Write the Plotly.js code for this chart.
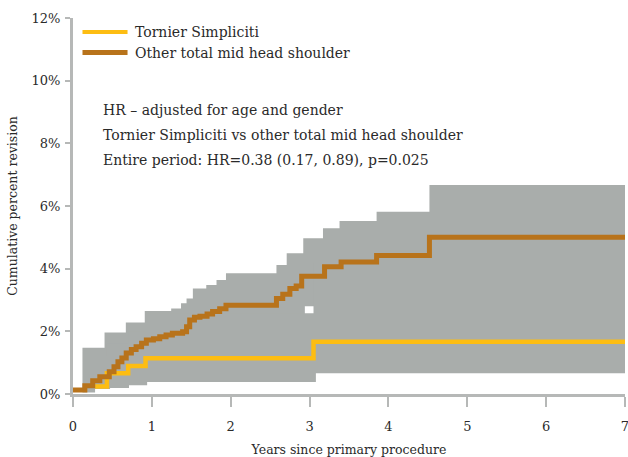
<!DOCTYPE html>
<html>
<head>
<meta charset="utf-8">
<script src="https://cdn.plot.ly/plotly-3.0.1.min.js"></script>
<style>html,body{margin:0;padding:0;background:#fff;}#chart{width:628px;height:457px;}</style>
</head>
<body>
<div id="chart"></div>
<script>
// Kaplan-Meier style cumulative percent revision (step functions)
const tornierYears = [0.28, 0.43, 0.70, 0.92, 3.05, 7.00];
const tornierPct   = [0.24, 0.66, 0.89, 1.14, 1.67, 1.67];
const tornierLoYears = [0.28, 0.45, 0.71, 0.94, 3.08, 7.00];
const tornierLoPct   = [0.16, 0.19, 0.28, 0.38, 0.66, 0.66];
const tornierHiYears = [0.28, 0.43, 0.70, 0.92, 3.05, 7.00];
const tornierHiPct   = [1.20, 1.60, 2.00, 2.58, 4.20, 4.20];

const otherYears = [0.00, 0.15, 0.25, 0.34, 0.46, 0.52, 0.57, 0.62, 0.675, 0.74, 0.80, 0.87, 0.93, 1.02, 1.10, 1.18, 1.26, 1.39, 1.44, 1.48, 1.54, 1.61, 1.70, 1.77, 1.86, 1.94, 2.58, 2.66, 2.75, 2.83, 2.90, 3.19, 3.40, 3.85, 4.52, 7.00];
const otherPct   = [0.13, 0.26, 0.42, 0.55, 0.71, 0.87, 1.03, 1.15, 1.31, 1.42, 1.51, 1.62, 1.72, 1.76, 1.83, 1.88, 1.94, 1.99, 2.15, 2.36, 2.45, 2.48, 2.55, 2.63, 2.72, 2.83, 3.05, 3.18, 3.37, 3.45, 3.76, 4.06, 4.21, 4.42, 5.00, 5.00];
const otherLoYears = [0.12, 0.28, 0.47, 0.72, 0.95, 1.26, 1.48, 1.94, 2.58, 2.72, 2.87, 2.94, 3.19, 3.40, 3.85, 4.52, 7.00];
const otherLoPct   = [0.05, 0.16, 0.30, 0.45, 0.60, 0.75, 1.00, 1.35, 1.50, 2.00, 2.30, 2.80, 3.00, 3.20, 3.35, 3.80, 3.80];
const otherHiYears = [0.12, 0.40, 0.67, 0.91, 1.245, 1.37, 1.44, 1.52, 1.69, 1.82, 1.94, 2.58, 2.71, 2.92, 3.17, 3.38, 3.85, 4.52, 7.00];
const otherHiPct   = [1.48, 1.96, 2.28, 2.65, 2.73, 2.90, 3.05, 3.37, 3.48, 3.64, 3.85, 4.12, 4.49, 4.97, 5.29, 5.52, 5.82, 6.67, 6.67];

const xTicks = [0, 1, 2, 3, 4, 5, 6, 7];
const yTicks = [0, 2, 4, 6, 8, 10, 12];
const seriesNames = ['Tornier Simpliciti', 'Other total mid head shoulder'];
const noteLines = [
  'HR \u2013 adjusted for age and gender',
  'Tornier Simpliciti vs other total mid head shoulder',
  'Entire period: HR=0.38 (0.17, 0.89), p=0.025'
];

const BAND = '#a9adab';
const YELLOW = '#fdbd12';
const BROWN = '#b8731b';
const AXIS = '#b6b8b7';
const FONT = 'DejaVu Serif, Liberation Serif, serif';
const TEXT = '#2a2a2a';

function band(xLo, yLo, xHi, yHi) {
  return [
    {x: xLo, y: yLo, mode: 'lines', line: {width: 0, shape: 'hv', color: BAND}, hoverinfo: 'skip', showlegend: false},
    {x: xHi, y: yHi, mode: 'lines', line: {width: 0, shape: 'hv', color: BAND}, fill: 'tonexty', fillcolor: BAND, hoverinfo: 'skip', showlegend: false}
  ];
}

const data = [
  ...band(otherLoYears, otherLoPct, otherHiYears, otherHiPct),
  ...band(tornierLoYears, tornierLoPct, tornierHiYears, tornierHiPct),
  {x: tornierYears, y: tornierPct, name: seriesNames[0], mode: 'lines', line: {color: YELLOW, width: 4.5, shape: 'hv'}, showlegend: false},
  {x: otherYears, y: otherPct, name: seriesNames[1], mode: 'lines', line: {color: BROWN, width: 5, shape: 'hv'}, showlegend: false}
];

const annotations = noteLines.map((t, i) => ({
  text: t, xref: 'paper', yref: 'paper', x: 0.05, y: 0.755 - i * 0.0665,
  xanchor: 'left', yanchor: 'middle', showarrow: false,
  font: {family: FONT, size: 14, color: TEXT}
}));
const legendY = [0.963, 0.908];
const legendColors = [YELLOW, BROWN];
seriesNames.forEach((n, i) => {
  annotations.push({text: n, xref: 'paper', yref: 'paper', x: 0.108, y: legendY[i],
    xanchor: 'left', yanchor: 'middle', showarrow: false,
    font: {family: FONT, size: 14, color: TEXT}});
});
const shapes = seriesNames.map((n, i) => ({
  type: 'line', xref: 'paper', yref: 'paper', x0: 0.0172, x1: 0.0988, y0: legendY[i], y1: legendY[i],
  line: {color: legendColors[i], width: i === 0 ? 4 : 5}
}));

const layout = {
  width: 628, height: 457,
  margin: {l: 73, r: 3, t: 18, b: 63},
  paper_bgcolor: '#fff', plot_bgcolor: '#fff',
  font: {family: FONT, size: 12.5, color: TEXT},
  showlegend: false,
  xaxis: {
    range: [0, 7], tickvals: xTicks, ticktext: xTicks.map(String),
    showline: true, linecolor: AXIS, linewidth: 3, showgrid: false, zeroline: false,
    ticks: 'outside', ticklen: 10, tickwidth: 2, tickcolor: AXIS, ticklabelstandoff: 8,
    ticklabeloverflow: 'allow',
    tickfont: {family: FONT, size: 13, color: TEXT},
    title: {text: 'Years since primary procedure', font: {family: FONT, size: 12.5, color: TEXT}, standoff: 14}
  },
  yaxis: {
    range: [0, 12], tickvals: yTicks, ticktext: yTicks.map(v => v + '%'),
    showline: true, linecolor: AXIS, linewidth: 3, showgrid: false, zeroline: false,
    ticks: 'outside', ticklen: 5, tickwidth: 2, tickcolor: AXIS, ticklabelstandoff: 2,
    tickfont: {family: FONT, size: 13, color: TEXT},
    title: {text: 'Cumulative percent revision', font: {family: FONT, size: 12.5, color: TEXT}, standoff: 12}
  },
  annotations: annotations,
  shapes: shapes
};

Plotly.newPlot('chart', data, layout, {displayModeBar: false, staticPlot: true});
</script>
</body>
</html>
